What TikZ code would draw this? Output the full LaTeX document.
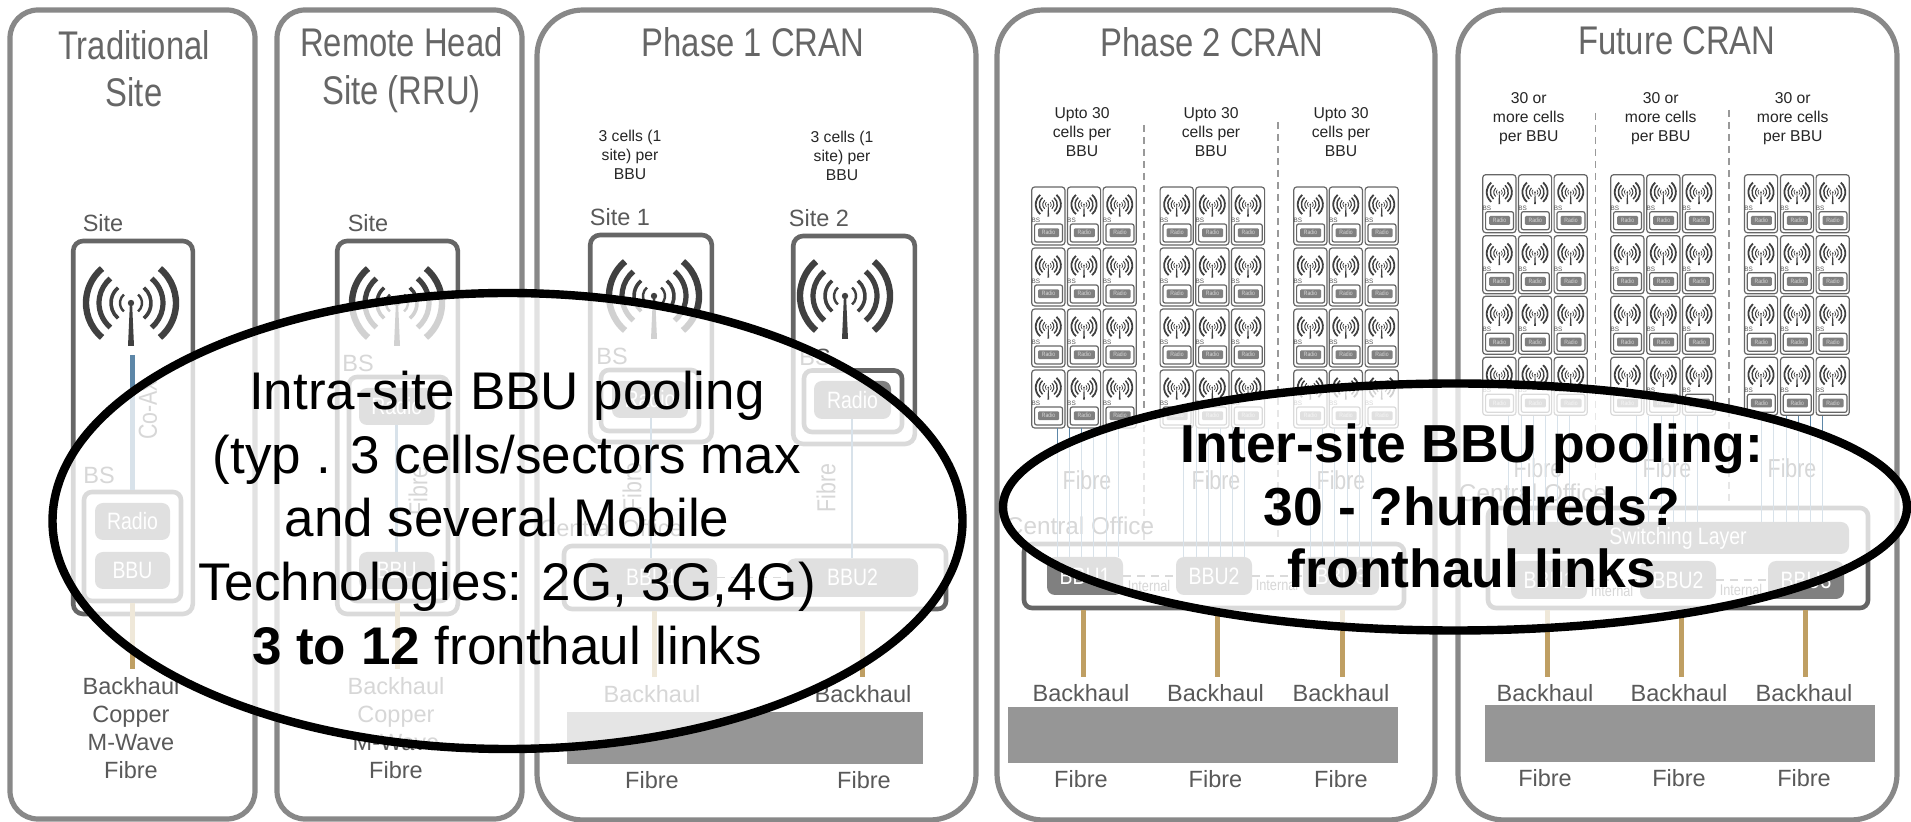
\documentclass[tikz,border=0pt]{standalone}
\usepackage{fontspec}
\usetikzlibrary{shapes.geometric}
\setmainfont{Liberation Sans}
\newfontfamily\nar[FakeStretch=0.82]{Liberation Sans}
\definecolor{panelc}{HTML}{888888}
\definecolor{boxc}{HTML}{666666}
\definecolor{fillc}{HTML}{808080}
\definecolor{txtc}{HTML}{595959}
\definecolor{blu}{HTML}{5D87A8}
\definecolor{gold}{HTML}{BF9F63}
\definecolor{rectc}{HTML}{969696}
\definecolor{antc}{HTML}{404040}
\newcommand{\pxf}[1]{\fontsize{\fpeval{(#1)/2}}{\fpeval{(#1)*0.6}}\selectfont}
\tikzset{
  x=0.5pt,y=-0.5pt,
  panel/.style={draw=panelc,fill=white,line width=2.6pt,rounded corners=14pt,inner sep=0pt},
  panelb/.style={panel,rounded corners=23pt},
  sitebox/.style={draw=boxc,line width=2.3pt,rounded corners=5pt,inner sep=0pt},
  bsbox/.style={sitebox,rounded corners=4pt},
  fillbox/.style={fill=fillc,rounded corners=4pt,inner sep=0pt,text=white,font=\nar\pxf{23.7}},
  cellbox/.style={draw=boxc,line width=0.6pt,rounded corners=1.5pt,inner sep=0pt,fill=white},
  cellbs/.style={draw=boxc,line width=0.6pt,rounded corners=1pt,inner sep=0pt},
  cellfill/.style={fill=fillc,rounded corners=0.6pt,inner sep=0pt,text=white!85!black,font=\nar\pxf{6.2}},
  greyrect/.style={fill=rectc,inner sep=0pt},
  lbl/.style={text=txtc,font=\pxf{23.5},inner sep=0pt},
  lblr/.style={text=txtc,font=\nar\pxf{26},inner sep=0pt,rotate=90},
  small/.style={text=black!85,font=\pxf{15.7},inner sep=0pt,align=center},
  title/.style={text=boxc,font=\nar\pxf{40},inner sep=0pt,anchor=base},
  intl/.style={text=txtc,font=\nar\pxf{15.5},inner sep=0pt},
  coax/.style={draw=blu,line width=2.5pt},
  fibre/.style={draw=blu,line width=1.4pt},
  thin/.style={draw=blu,line width=0.5pt},
  bh/.style={draw=gold,line width=2.5pt},
  link/.style={draw=boxc,line width=0.7pt,dash pattern=on 4pt off 3pt},
  sep/.style={draw=black!40,line width=0.7pt,dash pattern=on 3.5pt off 2.5pt},
  bubble/.style={ellipse,draw=black,line width=4.2pt,fill=white,fill opacity=0.76,text opacity=1,inner sep=0pt},
  bigt/.style={text=black,font=\pxf{53},inner sep=0pt,align=center},
}
% \rbox[text]{style}{name}{x1}{y1}{x2}{y2}
\newcommand{\rbox}[7][]{\node[#2,minimum width={((#6)-(#4))*0.5pt},minimum height={((#7)-(#5))*0.5pt}] (#3) at ({((#4)+(#6))/2},{((#5)+(#7))/2}) {#1};}
% \antenna{cx}{cy}{scale}
\newcommand{\antenna}[3]{%
  \pgfmathsetmacro{\ax}{#1}\pgfmathsetmacro{\ay}{#2}\pgfmathsetmacro{\as}{#3}%
  \foreach \rr/\ww in {45/3.2,32/2.6,20/1.8,11/1.2}{%
    \pgfmathsetmacro{\rad}{\rr*\as}%
    \pgfmathsetmacro{\lw}{\ww*\as}%
    \pgfmathsetmacro{\dx}{\rad*0.6428}\pgfmathsetmacro{\dy}{\rad*0.766}%
    \draw[antc,line width=\lw pt] (\ax+\dx,\ay-\dy) arc[start angle=-50,end angle=50,radius=\rad];
    \draw[antc,line width=\lw pt] (\ax-\dx,\ay+\dy) arc[start angle=130,end angle=230,radius=\rad];
  }%
  \fill[antc] (\ax-1*\as,\ay-2*\as) -- (\ax+1*\as,\ay-2*\as) -- (\ax+3*\as,\ay+43*\as) -- (\ax-3*\as,\ay+43*\as) -- cycle;
  \fill[antc] (\ax,\ay) circle[radius=3.2*\as];
}
% \bscell{name}{cx}{top}
\newcommand{\bscell}[3]{%
  \rbox{cellbox}{#1}{#2-16.6}{#3}{#2+16.6}{#3+58}%
  \antenna{#2}{#3+17.5}{0.28}%
  \node[lbl,font=\pxf{6.4}] (#1-t) at (#2-12.5,#3+33.5) {BS};%
  \rbox{cellbs}{#1-b}{#2-13.7}{#3+37}{#2+14.2}{#3+55}%
  \rbox[Radio]{cellfill}{#1-r}{#2-10.2}{#3+41.3}{#2+10.8}{#3+50.2}%
}
\begin{document}
\begin{tikzpicture}
\useasboundingbox (0,0) rectangle (1911,822);
% panels
\rbox{panel}{p1}{10}{10}{255}{819}
\rbox{panel}{p2}{277}{10}{522}{819}
\rbox{panelb}{p3}{537}{10}{976}{820}
\rbox{panelb}{p4}{997}{10}{1435}{820}
\rbox{panelb}{p5}{1458}{10}{1897}{820}
% titles
\node[title] (t1a) at (134,60) {Traditional};
\node[title] (t1b) at (134,107) {Site};
\node[title] (t2a) at (401.5,57) {Remote Head};
\node[title] (t2b) at (401.5,105) {Site (RRU)};
\node[title] (t3) at (753,57) {Phase 1 CRAN};
\node[title] (t4) at (1212,57) {Phase 2 CRAN};
\node[title] (t5) at (1677,55) {Future CRAN};
% --- Traditional site
\node[lbl] (l1) at (103,223) {Site};
\rbox{sitebox}{s1}{73.2}{241}{192.8}{614}
\antenna{131}{303}{1}
\coordinate (a1) at (132.5,355);
\node[lbl] (bs1t) at (99,475) {BS};
\rbox{bsbox}{bs1}{84}{492}{181}{601}
\rbox[Radio]{fillbox}{r1}{95}{503}{170}{540}
\rbox[BBU]{fillbox}{b1}{95}{552}{170}{589}
\draw[coax] (a1) -- (bs1.north -| a1);
\node[lblr] (c1) at (148,410) {Co-Ax};
\coordinate (h1) at (132.5,669);
\draw[bh] (bs1.south -| h1) -- (h1);
\node[lbl,align=center] (ht1) at (131,728) {Backhaul\\Copper\\M-Wave\\Fibre};
% --- Remote head
\node[lbl] (l2) at (368,223) {Site};
\rbox{sitebox}{s2}{337.2}{241}{457.8}{614}
\antenna{397}{303}{1}
\node[lbl] (bs2t) at (358,363) {BS};
\rbox{bsbox}{bs2}{349}{377}{448}{601}
\rbox[Radio]{fillbox}{r2}{359}{388}{434.5}{425}
\rbox[BBU]{fillbox}{b2}{359}{552}{434.5}{589}
\draw[fibre] (r2) -- (b2);
\node[lblr] (f2) at (418,491) {Fibre};
\coordinate (h2) at (397,669);
\draw[bh] (bs2.south -| h2) -- (h2);
\node[lbl,align=center] (ht2) at (396,728) {Backhaul\\Copper\\M-Wave\\Fibre};
% --- Phase 1
\node[small] (n31) at (630,155) {3 cells (1\\site) per\\BBU};
\node[small] (n32) at (842,156) {3 cells (1\\site) per\\BBU};
\node[lbl] (l31) at (620,217) {Site 1};
\node[lbl] (l32) at (819,218) {Site 2};
\rbox{sitebox}{s31}{590.2}{235}{711.8}{442}
\rbox{sitebox}{s32}{793.2}{236}{914.8}{444}
\antenna{654}{296}{1}
\antenna{845}{296}{1}
\node[lbl] (bs31t) at (612,356) {BS};
\node[lbl] (bs32t) at (815,357) {BS};
\rbox{bsbox}{bs31}{601}{370}{699}{431}
\rbox{bsbox}{bs32}{804}{370.5}{902}{432}
\rbox[Radio]{fillbox}{r31}{612}{381}{688}{418}
\rbox[Radio]{fillbox}{r32}{814}{381}{891}{419}
\node[lbl] (co3) at (611,528) {Central Office};
\rbox{bsbox}{co3b}{564}{546}{946}{609}
\rbox[BBU1]{fillbox}{b31}{586}{558.5}{717}{597}
\rbox[BBU2]{fillbox}{b32}{787}{558.5}{918}{597}
\coordinate (q31) at (651,400); \coordinate (q32) at (852,400);
\draw[fibre] (r31.south -| q31) -- (b31.north -| q31);
\draw[fibre] (r32.south -| q32) -- (b32.north -| q32);
\node[lblr] (f31) at (632,487) {Fibre};
\node[lblr] (f32) at (826,488) {Fibre};
\draw[link] (b31) -- (b32);
\coordinate (h31) at (654,677);
\coordinate (h32) at (862,677);
\draw[bh] (co3b.south -| h31) -- (h31);
\draw[bh] (co3b.south -| h32) -- (h32);
\node[lbl] (ht31) at (652,694) {Backhaul};
\node[lbl] (ht32) at (863,694) {Backhaul};
\rbox{greyrect}{g3}{567}{712}{923}{763.6}
\node[lbl] (fb31) at (652,780) {Fibre};
\node[lbl] (fb32) at (864,780) {Fibre};
% --- Phase 2
\node[small] (n41) at (1082,132) {Upto 30\\cells per\\BBU};
\node[small] (n42) at (1211,132) {Upto 30\\cells per\\BBU};
\node[small] (n43) at (1341,132) {Upto 30\\cells per\\BBU};
\coordinate (d41a) at (1144,125); \coordinate (d41b) at (1144,540);
\coordinate (d42a) at (1278,122); \coordinate (d42b) at (1278,540);
\draw[sep] (d41a) -- (d41b);
\draw[sep] (d42a) -- (d42b);
\foreach \cx [count=\ci] in {1048.3,1084,1119.7,1176.7,1212.3,1248,1310.3,1345.8,1381.7}{
  \foreach \cy [count=\ri] in {187,248,309,370}{
    \bscell{m\ci-\ri}{\cx}{\cy}
  }
}
\node[lbl,font=\nar\pxf{26}] (f41) at (1087,480) {Fibre};
\node[lbl,font=\nar\pxf{26}] (f42) at (1216,480) {Fibre};
\node[lbl,font=\nar\pxf{26}] (f43) at (1341,480) {Fibre};
\node[lbl,font=\pxf{24.3}] (co4) at (1080,526) {Central Office};
\rbox{bsbox}{co4b}{1024}{544}{1404}{608}
\rbox[BBU1]{fillbox}{b41}{1047}{557}{1123}{595}
\rbox[BBU2]{fillbox}{b42}{1176}{557}{1252}{595}
\rbox[BBU3]{fillbox}{b43}{1303}{557}{1379}{595}
\foreach \fx in {1057,1069,1081,1093,1106,1118}{
  \coordinate (ft) at (\fx,428); \draw[thin] (ft) -- (b41.north -| ft);}
\foreach \fx in {1183,1196,1208,1220,1232,1244}{
  \coordinate (ft) at (\fx,428); \draw[thin] (ft) -- (b42.north -| ft);}
\foreach \fx in {1310,1322,1334,1347,1359,1371}{
  \coordinate (ft) at (\fx,428); \draw[thin] (ft) -- (b43.north -| ft);}
\draw[link] (b41) -- (b42);
\draw[link] (b42) -- (b43);
\node[intl] (i41) at (1149,586) {Internal};
\node[intl] (i42) at (1277,585) {Internal};
\foreach \i/\hx/\tx in {1/1083/1081,2/1217/1215.5,3/1342/1341}{
  \coordinate (h4\i) at (\hx,677);
  \draw[bh] (co4b.south -| h4\i) -- (h4\i);
  \node[lbl] (ht4\i) at (\tx,693) {Backhaul};
  \node[lbl] (fb4\i) at (\tx,779) {Fibre};
}
\rbox{greyrect}{g4}{1008}{707}{1398}{763}
% --- Future
\node[small] (n51) at (1528.7,118.5) {30 or\\more cells\\per BBU};
\node[small] (n52) at (1660.7,118.5) {30 or\\more cells\\per BBU};
\node[small] (n53) at (1792.7,118.5) {30 or\\more cells\\per BBU};
\coordinate (d51a) at (1595.3,113); \coordinate (d51b) at (1595.3,505);
\coordinate (d52a) at (1729,110); \coordinate (d52b) at (1729,505);
\draw[sep] (d51a) -- (d51b);
\draw[sep] (d52a) -- (d52b);
\foreach \cx [count=\ci] in {1499.3,1535,1570.7,1627.3,1663.3,1699,1761,1797,1832.7}{
  \foreach \cy [count=\ri] in {174.7,235.7,296.3,357.3}{
    \bscell{n\ci-\ri}{\cx}{\cy}
  }
}
\node[lbl,font=\nar\pxf{26}] (f51) at (1538,468) {Fibre};
\node[lbl,font=\nar\pxf{26}] (f52) at (1667,468) {Fibre};
\node[lbl,font=\nar\pxf{26}] (f53) at (1792,468) {Fibre};
\node[lbl,font=\pxf{24.3}] (co5) at (1533,493) {Central Office};
\rbox{bsbox}{co5b}{1488}{508}{1868}{608}
\rbox[Switching Layer]{fillbox}{sw}{1507}{522}{1849}{554}
\rbox[BBU1]{fillbox}{b51}{1511}{561}{1587}{599}
\rbox[BBU2]{fillbox}{b52}{1640}{561}{1716}{599}
\rbox[BBU3]{fillbox}{b53}{1768}{561}{1844}{599}
\foreach \fx in {1508,1521,1533,1545,1557,1569,1636,1648,1661,1673,1685,1697,1761,1773,1786,1798,1810,1822}{
  \coordinate (ft) at (\fx,416); \draw[thin] (ft) -- (sw.north -| ft);}
\draw[link] (b51) -- (b52);
\draw[link] (b52) -- (b53);
\node[intl] (i51) at (1612,591) {Internal};
\node[intl] (i52) at (1741,590) {Internal};
\foreach \i/\hx/\tx in {1/1547/1545,2/1681/1679,3/1805/1804}{
  \coordinate (h5\i) at (\hx,677);
  \draw[bh] (co5b.south -| h5\i) -- (h5\i);
  \node[lbl] (ht5\i) at (\tx,693) {Backhaul};
  \node[lbl] (fb5\i) at (\tx,778) {Fibre};
}
\rbox{greyrect}{g5}{1485}{705}{1875}{762}
% --- overlays
\node[bubble,minimum width=455pt,minimum height=228pt] (e1) at (507.5,521) {};
\node[bubble,minimum width=452pt,minimum height=123.5pt] (e2) at (1455,507) {};
\node[bigt] (e1t) at (507,518) {Intra-site BBU pooling\\(typ . 3 cells/sectors max\\and several Mobile\\Technologies: 2G, 3G,4G)\\\textbf{3 to 12} fronthaul links};
\node[bigt,font=\bfseries\pxf{53.5}] (e2t) at (1472,506) {Inter-site BBU pooling:\\[-1pt]30 - ?hundreds?\\[-1pt]fronthaul links};
\end{tikzpicture}
\end{document}
